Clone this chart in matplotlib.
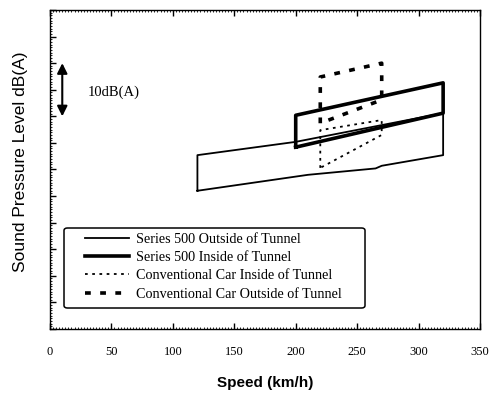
import matplotlib
matplotlib.use('Agg')
import matplotlib.pyplot as plt
from matplotlib.patches import FancyBboxPatch
from matplotlib.ticker import MultipleLocator, NullFormatter

# speed (km/h) and level dB(A) outlines of each measured band
s500_out_x = [120, 120, 200, 320, 320, 270, 265, 210, 120]
s500_out_y = [66.0, 72.7, 75.2, 80.6, 72.7, 70.7, 70.2, 69.0, 66.0]

s500_in_x = [200, 200, 320, 320, 200]
s500_in_y = [74.2, 80.2, 86.3, 80.6, 74.2]

conv_in_x = [220, 220, 270, 270, 220]
conv_in_y = [70.3, 77.4, 79.3, 76.5, 70.3]

conv_out_x = [220, 220, 270, 270, 220]
conv_out_y = [78.7, 87.4, 90.0, 83.1, 78.7]

labels = ['Series 500 Outside of Tunnel', 'Series 500 Inside of Tunnel',
          'Conventional Car Inside of Tunnel', 'Conventional Car Outside of Tunnel']
x_ticks = [0, 50, 100, 150, 200, 250, 300, 350]

fig = plt.figure(figsize=(4.92, 3.97), dpi=100)
ax = fig.add_axes([0.1016, 0.1713, 0.874, 0.8035])

ax.plot(s500_out_x, s500_out_y, color='black', lw=1.3, label=labels[0])
ax.plot(s500_in_x, s500_in_y, color='black', lw=2.6, label=labels[1])
ax.plot(conv_in_x, conv_in_y, color='black', lw=1.3, ls=(0, (1.5, 2.5)), label=labels[2])
ax.plot(conv_out_x, conv_out_y, color='black', lw=2.6, ls=(0, (1.6, 2.6)), label=labels[3])

# 10 dB scale marker
ax.annotate('', xy=(10, 90), xytext=(10, 80),
            arrowprops=dict(arrowstyle='<|-|>', color='black', lw=1.5,
                            mutation_scale=15, shrinkA=0, shrinkB=0))
ax.text(31, 84.6, '10dB(A)', family='Liberation Serif', fontsize=10.5, va='center')

ax.set_xlim(0, 350)
ax.set_ylim(40, 100)
ax.set_xticks(x_ticks)
ax.set_xticklabels([str(v) for v in x_ticks], family='Liberation Serif', fontsize=9)
ax.yaxis.set_major_locator(MultipleLocator(5))
ax.yaxis.set_major_formatter(NullFormatter())
ax.xaxis.set_minor_locator(MultipleLocator(2.5))
ax.yaxis.set_minor_locator(MultipleLocator(0.5))
ax.tick_params(which='both', direction='in', top=True, right=False)
ax.tick_params(which='major', length=4, width=1)
ax.tick_params(which='minor', length=1.5, width=0.6)
ax.tick_params(axis='x', which='major', pad=12)
for sp in ax.spines.values():
    sp.set_linewidth(1.0)

ax.set_xlabel('Speed (km/h)', family='Liberation Sans', fontsize=11, fontweight='bold', labelpad=13)
ax.set_ylabel('Sound Pressure Level dB(A)', family='Liberation Sans', fontsize=12.5)
ax.yaxis.set_label_coords(-0.052, 0.525)

# legend box drawn separately so the entries can sit further in
frame = FancyBboxPatch((0.0326, 0.0658), 0.70, 0.2508, boxstyle='round,pad=0,rounding_size=0.008',
                       transform=ax.transAxes, facecolor='white', edgecolor='black', lw=1.1, zorder=4)
ax.add_patch(frame)
leg = ax.legend(loc='upper left', bbox_to_anchor=(0.0814, 0.302), prop={'family': 'Liberation Serif', 'size': 10.2},
                frameon=False, handlelength=3.1, handletextpad=0.5, labelspacing=0.38,
                borderpad=0, borderaxespad=0)
leg.set_zorder(5)

fig.savefig('out.png', dpi=100)
